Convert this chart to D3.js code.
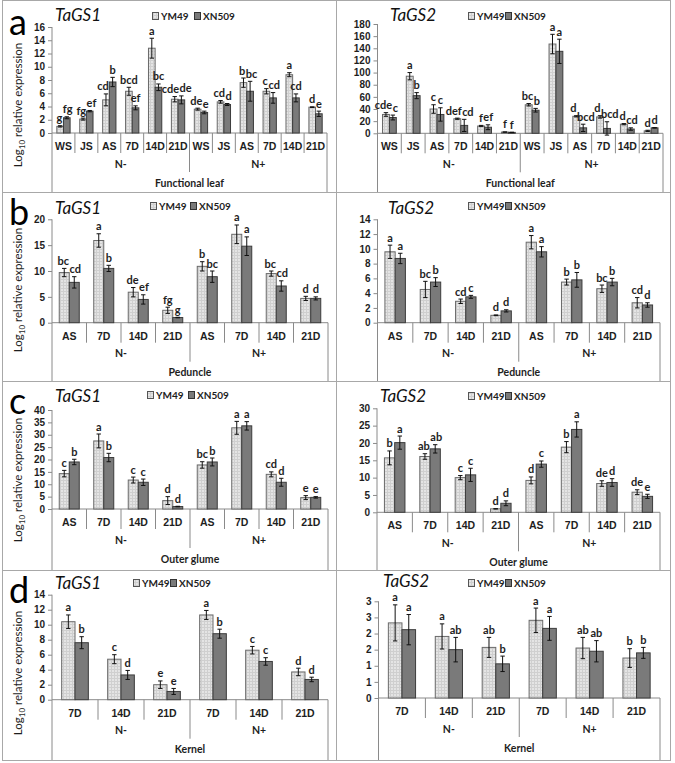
<!DOCTYPE html>
<html><head><meta charset="utf-8">
<script src="https://cdn.jsdelivr.net/npm/d3@7/dist/d3.min.js"></script>
<style>
body{margin:0;background:#fff;}
svg{display:block;font-family:Lato,"Open Sans",sans-serif;}
</style></head>
<body>
<script>
// ---------- DATA ----------
const series = ["YM49", "XN509"];
const groups = ["N-", "N+"];
const catsLeaf = ["WS", "JS", "AS", "7D", "14D", "21D"];
const catsMid = ["AS", "7D", "14D", "21D"];
const catsKernel = ["7D", "14D", "21D"];

// a: Functional leaf, TaGS1
const a1YM = [1.0, 2.1, 5.0, 6.3, 12.8, 5.1, 3.6, 4.7, 7.6, 6.3, 8.8, 3.9];
const a1XN = [2.3, 3.3, 7.7, 3.8, 6.9, 5.0, 3.1, 4.3, 6.3, 5.3, 5.3, 2.9];
const a1YMerr = [0.1, 0.15, 0.9, 0.6, 1.5, 0.4, 0.15, 0.2, 0.7, 0.4, 0.3, 0.05];
const a1XNerr = [0.15, 0.1, 0.7, 0.3, 0.5, 0.6, 0.2, 0.15, 1.5, 0.8, 0.6, 0.4];
const a1YMsig = ["g", "fg", "cde", "bcd", "a", "cde", "de", "cd", "b", "c", "a", "d"];
const a1XNsig = ["fg", "ef", "b", "ef", "bc", "de", "e", "d", "bc", "cd", "cd", "e"];
const a1Ticks = [0, 2, 4, 6, 8, 10, 12, 14, 16];

// a: Functional leaf, TaGS2
const a2YM = [31, 94, 40, 24, 12, 2, 47, 147, 28, 27, 15, 4];
const a2XN = [26, 62, 31, 13, 10, 1.5, 38, 135, 9, 8, 7, 9];
const a2YMerr = [3, 6, 7, 1, 1, 0.3, 2, 16, 1, 2, 1, 1];
const a2XNerr = [4, 5, 11, 10, 4, 0.3, 3, 20, 6, 11, 2, 0.5];
const a2YMsig = ["cde", "a", "c", "def", "f", "f", "bc", "a", "d", "d", "d", "d"];
const a2XNsig = ["c", "b", "c", "cd", "ef", "f", "b", "a", "bcd", "bcd", "cd", "d"];
const a2Ticks = [0, 20, 40, 60, 80, 100, 120, 140, 160, 180];

// b: Peduncle, TaGS1
const b1YM = [9.7, 15.9, 5.9, 2.4, 10.9, 17.1, 9.5, 4.7];
const b1XN = [7.8, 10.5, 4.5, 1.0, 8.9, 14.8, 7.1, 4.7];
const b1YMerr = [0.8, 1.3, 0.9, 0.6, 0.9, 1.8, 0.5, 0.4];
const b1XNerr = [1.1, 0.6, 0.9, 0.05, 1.1, 1.8, 1.0, 0.3];
const b1YMsig = ["bc", "a", "de", "fg", "b", "a", "bc", "d"];
const b1XNsig = ["cd", "b", "ef", "g", "bc", "a", "cd", "d"];
const b1Ticks = [0, 5, 10, 15, 20];

// b: Peduncle, TaGS2
const b2YM = [9.6, 4.5, 2.9, 1.0, 10.9, 5.5, 4.6, 2.7];
const b2XN = [8.7, 5.5, 3.5, 1.6, 9.6, 5.8, 5.5, 2.4];
const b2YMerr = [0.9, 1.1, 0.3, 0.05, 0.9, 0.4, 0.5, 0.7];
const b2XNerr = [0.7, 0.6, 0.2, 0.15, 0.7, 1.0, 0.5, 0.3];
const b2YMsig = ["a", "bc", "cd", "d", "a", "b", "bc", "cd"];
const b2XNsig = ["a", "b", "c", "d", "a", "b", "b", "d"];
const b2Ticks = [0, 2, 4, 6, 8, 10, 12, 14];

// c: Outer glume, TaGS1
const c1YM = [14.3, 27.5, 11.7, 3.4, 17.8, 32.8, 14.0, 4.6];
const c1XN = [19.0, 20.8, 10.8, 1.0, 19.0, 33.6, 10.8, 4.7];
const c1YMerr = [1.3, 2.8, 1.2, 1.6, 1.3, 2.6, 1.0, 0.8];
const c1XNerr = [1.1, 1.7, 1.3, 0.1, 1.6, 1.7, 1.6, 0.3];
const c1YMsig = ["c", "a", "c", "d", "bc", "a", "cd", "e"];
const c1XNsig = ["b", "b", "c", "d", "b", "a", "d", "e"];
const c1Ticks = [0, 5, 10, 15, 20, 25, 30, 35, 40];

// c: Outer glume, TaGS2
const c2YM = [15.7, 16.1, 10.0, 1.0, 9.2, 18.8, 8.3, 5.8];
const c2XN = [20.1, 18.3, 10.8, 2.6, 13.9, 23.9, 8.6, 4.6];
const c2YMerr = [2.0, 0.8, 0.6, 0.05, 1.0, 1.6, 0.8, 0.7];
const c2XNerr = [1.9, 1.2, 1.9, 0.7, 0.9, 2.2, 1.1, 0.6];
const c2YMsig = ["b", "ab", "c", "d", "d", "b", "de", "de"];
const c2XNsig = ["a", "ab", "c", "d", "c", "a", "d", "e"];
const c2Ticks = [0, 5, 10, 15, 20, 25, 30];

// d: Kernel, TaGS1
const d1YM = [10.4, 5.4, 2.0, 11.3, 6.6, 3.7];
const d1XN = [7.6, 3.3, 1.1, 8.8, 5.1, 2.7];
const d1YMerr = [0.9, 0.6, 0.5, 0.6, 0.5, 0.5];
const d1XNerr = [0.8, 0.6, 0.4, 0.6, 0.5, 0.3];
const d1YMsig = ["a", "c", "e", "a", "c", "d"];
const d1XNsig = ["b", "d", "e", "b", "c", "d"];
const d1Ticks = [0, 2, 4, 6, 8, 10, 12, 14];

// d: Kernel, TaGS2
const d2YM = [2.33, 1.91, 1.57, 2.41, 1.55, 1.24];
const d2XN = [2.12, 1.50, 1.06, 2.16, 1.45, 1.40];
const d2YMerr = [0.56, 0.39, 0.31, 0.38, 0.33, 0.29];
const d2XNerr = [0.47, 0.38, 0.24, 0.37, 0.33, 0.17];
const d2YMsig = ["a", "a", "ab", "a", "ab", "b"];
const d2XNsig = ["a", "ab", "b", "a", "ab", "b"];
const d2Ticks = [0, 0.5, 1, 1.5, 2, 2.5, 3];
const d2TickLabels = ["0", "1", "1", "2", "2", "3", "3"];

// ---------- LAYOUT ----------
const W = 675, H = 763;
const svg = d3.select("body").append("svg").attr("width", W).attr("height", H);

const defs = svg.append("defs");
const pat = defs.append("pattern").attr("id", "ymPat").attr("patternUnits", "userSpaceOnUse")
  .attr("width", 3).attr("height", 3);
pat.append("rect").attr("width", 3).attr("height", 3).attr("fill", "#e4e4e4");
pat.append("path").attr("d", "M0,0.5H3M0.5,0V3").attr("stroke", "#cfcfcf").attr("stroke-width", 1);

const axisCol = "#8a8a8a";
const textCol = "#1e1e1e";

// frame
const frame = svg.append("g").attr("stroke", "#a8a8a8").attr("stroke-width", 1).attr("fill", "none");
frame.append("rect").attr("x", 2.5).attr("y", 0.5).attr("width", 668).attr("height", 760);
[192.5, 381.5, 570.5].forEach(yy => frame.append("line").attr("x1", 2.5).attr("x2", 670.5).attr("y1", yy).attr("y2", yy));
frame.append("line").attr("x1", 336.5).attr("x2", 336.5).attr("y1", 0.5).attr("y2", 760.5);

const panels = [
  {letter: "a", lx: 9, ly: 35, gene: "TaGS1", tx: 55, ty: 21, legX: 152, legY: 20, leg2X: 194,
   cats: catsLeaf, ym: a1YM, xn: a1XN, yme: a1YMerr, xne: a1XNerr, yms: a1YMsig, xns: a1XNsig,
   ticks: a1Ticks, x0: 52, x1: 327, yTop: 27, y0: 133, bottom: 192, tissue: "Functional leaf", ytitle: 105},
  {gene: "TaGS2", tx: 390, ty: 21, legX: 468, legY: 20, leg2X: 505,
   cats: catsLeaf, ym: a2YM, xn: a2XN, yme: a2YMerr, xne: a2XNerr, yms: a2YMsig, xns: a2XNsig,
   ticks: a2Ticks, x0: 377.5, x1: 663, yTop: 24, y0: 133.3, bottom: 192, tissue: "Functional leaf"},
  {letter: "b", lx: 9, ly: 225, gene: "TaGS1", tx: 55, ty: 214, legX: 150, legY: 210, leg2X: 190,
   cats: catsMid, ym: b1YM, xn: b1XN, yme: b1YMerr, xne: b1XNerr, yms: b1YMsig, xns: b1XNsig,
   ticks: b1Ticks, x0: 52, x1: 328, yTop: 219.3, y0: 322.7, bottom: 381, tissue: "Peduncle", ytitle: 290},
  {gene: "TaGS2", tx: 388, ty: 214, legX: 468, legY: 210, leg2X: 505,
   cats: catsMid, ym: b2YM, xn: b2XN, yme: b2YMerr, xne: b2XNerr, yms: b2YMsig, xns: b2XNsig,
   ticks: b2Ticks, x0: 377.5, x1: 660, yTop: 219.3, y0: 322.7, bottom: 381, tissue: "Peduncle"},
  {letter: "c", lx: 9, ly: 414, gene: "TaGS1", tx: 55, ty: 402, legX: 147, legY: 399, leg2X: 188,
   cats: catsMid, ym: c1YM, xn: c1XN, yme: c1YMerr, xne: c1XNerr, yms: c1YMsig, xns: c1XNsig,
   ticks: c1Ticks, x0: 52, x1: 328, yTop: 410, y0: 509, bottom: 570, tissue: "Outer glume", ytitle: 480},
  {gene: "TaGS2", tx: 380, ty: 402, legX: 468, legY: 400, leg2X: 505,
   cats: catsMid, ym: c2YM, xn: c2XN, yme: c2YMerr, xne: c2XNerr, yms: c2YMsig, xns: c2XNsig,
   ticks: c2Ticks, x0: 377, x1: 660, yTop: 408.3, y0: 512.3, bottom: 570, tissue: "Outer glume"},
  {letter: "d", lx: 9, ly: 603, gene: "TaGS1", tx: 55, ty: 589, legX: 133, legY: 587, leg2X: 170,
   cats: catsKernel, ym: d1YM, xn: d1XN, yme: d1YMerr, xne: d1XNerr, yms: d1YMsig, xns: d1XNsig,
   ticks: d1Ticks, x0: 52, x1: 328, yTop: 594.7, y0: 699.7, bottom: 760, tissue: "Kernel", ytitle: 673},
  {gene: "TaGS2", tx: 383, ty: 587, legX: 468, legY: 587, leg2X: 505,
   cats: catsKernel, ym: d2YM, xn: d2XN, yme: d2YMerr, xne: d2XNerr, yms: d2YMsig, xns: d2XNsig,
   ticks: d2Ticks, tickLabels: d2TickLabels, x0: 378.5, x1: 660, yTop: 601.3, y0: 698, bottom: 760, tissue: "Kernel"}
];

function drawPanel(p) {
  const g = svg.append("g");
  const n = p.cats.length;
  const idx = d3.range(n * groups.length);
  const x = d3.scaleBand().domain(idx).range([p.x0, p.x1]).paddingInner(0).paddingOuter(0);
  const xs = d3.scaleBand().domain(series).range([x.bandwidth() * 0.21, x.bandwidth() * 0.79]);
  const yMax = p.ticks[p.ticks.length - 1];
  const y = d3.scaleLinear().domain([0, yMax]).range([p.y0, p.yTop]);

  const yAxis = d3.axisLeft(y).tickValues(p.ticks).tickSize(4).tickPadding(3)
    .tickFormat((d, i) => p.tickLabels ? p.tickLabels[i] : d3.format("d")(d));
  const ya = g.append("g").attr("transform", `translate(${p.x0},0)`).call(yAxis);
  ya.select(".domain").remove();
  ya.selectAll("line").attr("stroke", axisCol);
  ya.selectAll("text").attr("font-size", 10).attr("font-weight", "bold").attr("fill", textCol);
  g.append("line").attr("x1", p.x0).attr("x2", p.x0).attr("y1", p.yTop).attr("y2", p.bottom).attr("stroke", axisCol);
  g.append("line").attr("x1", p.x1).attr("x2", p.x1).attr("y1", p.y0).attr("y2", p.bottom).attr("stroke", axisCol);
  g.append("line").attr("x1", p.x0).attr("x2", p.x1).attr("y1", p.y0).attr("y2", p.y0).attr("stroke", axisCol);

  idx.slice(1).forEach(i => {
    const xx = x(i);
    const isGroup = i % n === 0;
    g.append("line").attr("x1", xx).attr("x2", xx).attr("y1", p.y0)
      .attr("y2", p.y0 + (isGroup ? 39 : 20)).attr("stroke", axisCol);
  });
  const xAxis = d3.axisBottom(x).tickSize(0).tickPadding(0).tickFormat(i => p.cats[i % n]);
  const xa = g.append("g").attr("transform", `translate(0,${p.y0})`).call(xAxis);
  xa.select(".domain").remove();
  xa.selectAll("text").attr("dy", null).attr("y", 17).attr("font-size", 10.5).attr("font-weight", "bold").attr("fill", textCol);

  groups.forEach((gr, gi) => {
    const cx = (x(gi * n) + x(gi * n + n - 1) + x.bandwidth()) / 2;
    g.append("text").attr("x", cx).attr("y", p.y0 + 34.5).attr("text-anchor", "middle")
      .attr("font-size", 10.5).attr("font-weight", "bold").attr("fill", textCol).text(gr);
  });
  g.append("text").attr("x", (p.x0 + p.x1) / 2).attr("y", p.y0 + 53.5).attr("text-anchor", "middle")
    .attr("font-size", 10.5).attr("font-weight", "bold").attr("fill", textCol).text(p.tissue);

  const sdata = [
    {s: "YM49", v: p.ym, e: p.yme, l: p.yms, fill: "url(#ymPat)", stroke: "#6a6a6a"},
    {s: "XN509", v: p.xn, e: p.xne, l: p.xns, fill: "#7a7a7a", stroke: "#3c3c3c"}
  ];
  const labelSel = {};
  sdata.forEach(sd => {
    const bw = xs.bandwidth();
    const recs = idx.map(i => ({i, v: sd.v[i], e: sd.e[i], l: sd.l[i]}));
    const gs = g.append("g");
    gs.selectAll("rect").data(recs).join("rect")
      .attr("x", d => x(d.i) + xs(sd.s)).attr("width", bw)
      .attr("y", d => y(d.v)).attr("height", d => p.y0 - y(d.v))
      .attr("fill", sd.fill).attr("stroke", sd.stroke).attr("stroke-width", 1);
    const eb = gs.selectAll("g.eb").data(recs).join("g").attr("class", "eb");
    const cxf = d => x(d.i) + xs(sd.s) + bw / 2;
    eb.append("line").attr("x1", cxf).attr("x2", cxf)
      .attr("y1", d => y(d.v - d.e)).attr("y2", d => y(d.v + d.e)).attr("stroke", "#111");
    eb.append("line").attr("x1", d => cxf(d) - 2.2).attr("x2", d => cxf(d) + 2.2)
      .attr("y1", d => y(d.v + d.e)).attr("y2", d => y(d.v + d.e)).attr("stroke", "#111");
    eb.append("line").attr("x1", d => cxf(d) - 2.2).attr("x2", d => cxf(d) + 2.2)
      .attr("y1", d => y(d.v - d.e)).attr("y2", d => y(d.v - d.e)).attr("stroke", "#111");
    labelSel[sd.s] = eb.append("text").attr("x", cxf).attr("y", d => y(d.v + d.e) - 3.5)
      .attr("text-anchor", "middle").attr("font-size", 11).attr("font-weight", "bold").attr("fill", textCol)
      .text(d => d.l);
  });
  const ymNodes = labelSel["YM49"].nodes(), xnNodes = labelSel["XN509"].nodes();
  idx.forEach(i => {
    const a = ymNodes[i], b = xnNodes[i];
    const ay = +a.getAttribute("y"), by = +b.getAttribute("y");
    if (Math.abs(ay - by) > 10) return;
    const ax = +a.getAttribute("x"), bx = +b.getAttribute("x");
    const aw = a.getComputedTextLength(), bwid = b.getComputedTextLength();
    const overlap = (ax + aw / 2) - (bx - bwid / 2) + 0.5;
    if (overlap > 0) {
      a.setAttribute("x", ax - overlap / 2);
      b.setAttribute("x", bx + overlap / 2);
    }
  });

  g.append("text").attr("x", p.tx).attr("y", p.ty).attr("font-size", 17).attr("font-style", "italic")
    .attr("fill", "#111").text(p.gene);
  [[p.legX, "YM49", "url(#ymPat)", "#555"], [p.leg2X, "XN509", "#7a7a7a", "#333"]].forEach(([lx, t, f, s]) => {
    g.append("rect").attr("x", lx + 0.5).attr("y", p.legY - 7.5).attr("width", 6).attr("height", 7)
      .attr("fill", f).attr("stroke", s);
    g.append("text").attr("x", lx + 9).attr("y", p.legY).attr("font-size", 10).attr("font-weight", "bold")
      .attr("fill", textCol).text(t);
  });
  if (p.letter) {
    g.append("text").attr("x", p.lx).attr("y", p.ly).attr("font-size", 36).attr("fill", "#000").text(p.letter);
  }
  if (p.ytitle) {
    const t = g.append("text").attr("transform", `translate(22,${p.ytitle}) rotate(-90)`)
      .attr("text-anchor", "middle").attr("font-size", 11.5).attr("fill", textCol);
    t.append("tspan").text("Log");
    t.append("tspan").attr("font-size", 8).attr("dy", 3).text("10");
    t.append("tspan").attr("dy", -3).text(" relative  expression");
  }
}
panels.forEach(drawPanel);
</script>
</body></html>
